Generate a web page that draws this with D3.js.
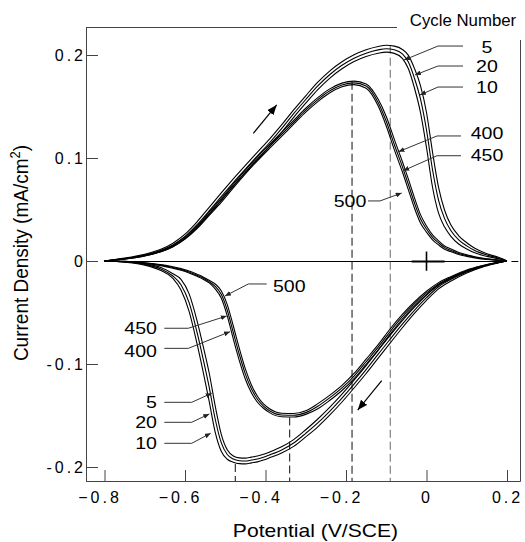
<!DOCTYPE html>
<html>
<head>
<meta charset="utf-8">
<script src="https://cdn.jsdelivr.net/npm/d3@7/dist/d3.min.js"></script>
<style>
  html, body { margin: 0; padding: 0; background: #fff; }
  svg { display: block; font-family: "Liberation Sans", Arial, Helvetica, sans-serif; }
</style>
</head>
<body>
<div id="chart"></div>
<script>
// =========================================================
// Cyclic voltammograms: early cycles (5, 20, 10) vs late (400, 450, 500)
// =========================================================

// anodic sweep (-0.8 -> 0.2 V), potential grid
const anodicE = [-0.8, -0.75, -0.7, -0.66, -0.63, -0.6, -0.57, -0.54, -0.51, -0.48, -0.45, -0.42, -0.39,
  -0.36, -0.33, -0.3, -0.27, -0.24, -0.21, -0.18, -0.15, -0.12, -0.1, -0.08, -0.06, -0.045, -0.03, -0.015,
  0, 0.015, 0.03, 0.045, 0.06, 0.08, 0.1, 0.12, 0.15, 0.18, 0.2];

const anodic5 = [0, 0.0020, 0.0050, 0.0089, 0.0139, 0.0215, 0.0323, 0.0453, 0.0589, 0.0726, 0.0857, 0.0985,
  0.1112, 0.1249, 0.1395, 0.1532, 0.1664, 0.1776, 0.1866, 0.1936, 0.1985, 0.2017, 0.2028, 0.2016, 0.1968,
  0.1866, 0.1680, 0.1443, 0.1102, 0.0716, 0.0464, 0.0329, 0.0242, 0.0165, 0.0117, 0.0079, 0.0045, 0.0021, 0];
const anodic20 = [0, 0.0024, 0.0058, 0.0101, 0.0156, 0.0238, 0.0352, 0.0487, 0.0625, 0.0762, 0.0893, 0.1021,
  0.1148, 0.1285, 0.1431, 0.1568, 0.1700, 0.1811, 0.1900, 0.1969, 0.2018, 0.2050, 0.2061, 0.2051, 0.2011,
  0.1931, 0.1775, 0.1573, 0.1272, 0.0886, 0.0589, 0.0411, 0.0298, 0.0205, 0.0147, 0.0101, 0.0058, 0.0027, 0];
const anodic10 = [0, 0.0028, 0.0066, 0.0113, 0.0173, 0.0261, 0.0381, 0.0521, 0.0661, 0.0798, 0.0929, 0.1057,
  0.1184, 0.1321, 0.1467, 0.1604, 0.1736, 0.1846, 0.1934, 0.2002, 0.2051, 0.2083, 0.2094, 0.2086, 0.2054,
  0.1996, 0.1870, 0.1703, 0.1442, 0.1056, 0.0714, 0.0493, 0.0354, 0.0245, 0.0177, 0.0123, 0.0071, 0.0033, 0];
const anodic400 = [0, 0.0023, 0.0057, 0.0102, 0.0154, 0.0232, 0.0340, 0.0474, 0.0607, 0.0747, 0.0883, 0.1011,
  0.1131, 0.1248, 0.1366, 0.1483, 0.1586, 0.1671, 0.1727, 0.1746, 0.1719, 0.1570, 0.1403, 0.1181, 0.0966,
  0.0795, 0.0615, 0.0450, 0.0340, 0.0254, 0.0196, 0.0146, 0.0118, 0.0083, 0.0061, 0.0042, 0.0022, 0.0010, 0];
const anodic450 = [0, 0.0021, 0.0053, 0.0096, 0.0146, 0.0222, 0.0327, 0.0458, 0.0588, 0.0728, 0.0864, 0.0992,
  0.1112, 0.1229, 0.1347, 0.1464, 0.1567, 0.1652, 0.1709, 0.1729, 0.1698, 0.1537, 0.1357, 0.1131, 0.0916,
  0.0743, 0.0565, 0.0410, 0.0310, 0.0230, 0.0176, 0.0130, 0.0105, 0.0073, 0.0053, 0.0036, 0.0018, 0.0008, 0];
const anodic500 = [0, 0.0019, 0.0049, 0.0090, 0.0138, 0.0212, 0.0314, 0.0442, 0.0569, 0.0709, 0.0845, 0.0973,
  0.1093, 0.1210, 0.1328, 0.1445, 0.1548, 0.1633, 0.1691, 0.1712, 0.1677, 0.1504, 0.1311, 0.1081, 0.0866,
  0.0691, 0.0515, 0.0370, 0.0280, 0.0206, 0.0156, 0.0114, 0.0092, 0.0063, 0.0045, 0.0030, 0.0014, 0.0006, 0];

// cathodic sweep (0.2 -> -0.8 V), stored on an ascending potential grid
const cathodicE = [-0.8, -0.75, -0.7, -0.66, -0.63, -0.61, -0.59, -0.57, -0.555, -0.54, -0.525, -0.51, -0.495,
  -0.48, -0.465, -0.45, -0.435, -0.42, -0.405, -0.39, -0.36, -0.33, -0.3, -0.27, -0.24, -0.21, -0.18, -0.15,
  -0.12, -0.09, -0.06, -0.03, 0, 0.03, 0.06, 0.1, 0.14, 0.17, 0.2];

const cathodic5 = [0, -0.0006, -0.0028, -0.0063, -0.0124, -0.0178, -0.0317, -0.0581, -0.0825, -0.1085, -0.1406,
  -0.1680, -0.1833, -0.1893, -0.1911, -0.1914, -0.1904, -0.1894, -0.1877, -0.1855, -0.1804, -0.1734, -0.1638,
  -0.1534, -0.1419, -0.1293, -0.1157, -0.1016, -0.0867, -0.0719, -0.0578, -0.0449, -0.0330, -0.0230, -0.0164,
  -0.0096, -0.0045, -0.0020, 0];
const cathodic20 = [0, -0.0009, -0.0034, -0.0078, -0.0146, -0.0230, -0.0402, -0.0693, -0.0950, -0.1223, -0.1534,
  -0.1764, -0.1879, -0.1923, -0.1939, -0.1942, -0.1932, -0.1922, -0.1905, -0.1883, -0.1834, -0.1767, -0.1673,
  -0.1572, -0.1457, -0.1331, -0.1195, -0.1054, -0.0905, -0.0757, -0.0613, -0.0479, -0.0356, -0.0250, -0.0180,
  -0.0106, -0.0051, -0.0023, 0];
const cathodic10 = [0, -0.0012, -0.0040, -0.0093, -0.0168, -0.0282, -0.0487, -0.0805, -0.1075, -0.1361, -0.1662,
  -0.1848, -0.1925, -0.1953, -0.1967, -0.1970, -0.1960, -0.1950, -0.1933, -0.1911, -0.1864, -0.1800, -0.1708,
  -0.1610, -0.1495, -0.1369, -0.1233, -0.1092, -0.0943, -0.0795, -0.0648, -0.0509, -0.0382, -0.0270, -0.0196,
  -0.0116, -0.0057, -0.0026, 0];
const cathodic400 = [0, -0.0005, -0.0023, -0.0045, -0.0070, -0.0090, -0.0116, -0.0149, -0.0177, -0.0213, -0.0271,
  -0.0360, -0.0533, -0.0757, -0.0967, -0.1148, -0.1279, -0.1371, -0.1430, -0.1472, -0.1512, -0.1515, -0.1489,
  -0.1435, -0.1352, -0.1257, -0.1142, -0.1003, -0.0862, -0.0708, -0.0563, -0.0436, -0.0326, -0.0236, -0.0172,
  -0.0102, -0.0053, -0.0022, 0];
const cathodic450 = [0, -0.0004, -0.0020, -0.0040, -0.0063, -0.0082, -0.0107, -0.0139, -0.0166, -0.0200, -0.0247,
  -0.0324, -0.0478, -0.0694, -0.0908, -0.1098, -0.1241, -0.1342, -0.1409, -0.1453, -0.1495, -0.1498, -0.1472,
  -0.1410, -0.1327, -0.1232, -0.1117, -0.0978, -0.0837, -0.0683, -0.0541, -0.0417, -0.0310, -0.0223, -0.0162,
  -0.0095, -0.0049, -0.0020, 0];
const cathodic500 = [0, -0.0003, -0.0017, -0.0035, -0.0056, -0.0074, -0.0098, -0.0129, -0.0155, -0.0187, -0.0223,
  -0.0288, -0.0423, -0.0631, -0.0849, -0.1048, -0.1203, -0.1313, -0.1388, -0.1434, -0.1478, -0.1481, -0.1455,
  -0.1385, -0.1302, -0.1207, -0.1092, -0.0953, -0.0812, -0.0658, -0.0519, -0.0398, -0.0294, -0.0210, -0.0152,
  -0.0088, -0.0045, -0.0018, 0];

const cycles = [5, 20, 10, 400, 450, 500];
const anodicI = [anodic5, anodic20, anodic10, anodic400, anodic450, anodic500];
const cathodicI = [cathodic5, cathodic20, cathodic10, cathodic400, cathodic450, cathodic500];

const xTicks = [-0.8, -0.6, -0.4, -0.2, 0, 0.2];
const yTicks = [0.2, 0.1, 0, -0.1, -0.2];

// dashed drop lines at the peak potentials (potential, current where the line starts)
const peakE = [-0.185, -0.09, -0.34, -0.475];
const peakI = [0.174, 0.209, -0.152, -0.197];

// sweep direction arrows [from, to]
const sweepArrows = [
  [[-0.4303, 0.1240], [-0.3722, 0.1515]],
  [[-0.1113, -0.1162], [-0.1709, -0.1447]],
];

// cycle-number callouts: label, label position, leader polyline (data units)
const callouts = [
  { t: '5',   x: 0.1503,  y: 0.2081,  a: 'middle', lead: [[0.0907, 0.2087], [0.0286, 0.2087], [-0.0559, 0.1951]] },
  { t: '20',  x: 0.1503,  y: 0.1893,  a: 'middle', lead: [[0.0907, 0.1893], [0.0286, 0.1893], [-0.0286, 0.1806]] },
  { t: '10',  x: 0.1503,  y: 0.1689,  a: 'middle', lead: [[0.0907, 0.1689], [0.0286, 0.1689], [-0.0162, 0.1612]] },
  { t: '400', x: 0.1503,  y: 0.1246,  a: 'middle', lead: [[0.0857, 0.1214], [0.0261, 0.1214], [-0.0696, 0.1061]] },
  { t: '450', x: 0.1503,  y: 0.1029,  a: 'middle', lead: [[0.0857, 0.1022], [0.0261, 0.1022], [-0.0576, 0.0877]] },
  { t: '500', x: -0.1901, y: 0.0583,  a: 'middle', lead: [[-0.1453, 0.0583], [-0.1155, 0.0583], [-0.0616, 0.0660]] },
  { t: '500', x: -0.3411, y: -0.0240, a: 'middle', lead: [[-0.3970, -0.0223], [-0.4427, -0.0223], [-0.5006, -0.0340]] },
  { t: '450', x: -0.6696, y: -0.0648, a: 'end',    lead: [[-0.6514, -0.0653], [-0.5918, -0.0653], [-0.4964, -0.0534]] },
  { t: '400', x: -0.6696, y: -0.0871, a: 'end',    lead: [[-0.6514, -0.0848], [-0.5918, -0.0848], [-0.4882, -0.0686]] },
  { t: '5',   x: -0.6696, y: -0.1372, a: 'end',    lead: [[-0.6514, -0.1372], [-0.5834, -0.1372], [-0.5337, -0.1284]] },
  { t: '20',  x: -0.6696, y: -0.1566, a: 'end',    lead: [[-0.6514, -0.1566], [-0.5834, -0.1566], [-0.5396, -0.1485]] },
  { t: '10',  x: -0.6696, y: -0.1770, a: 'end',    lead: [[-0.6514, -0.1770], [-0.5834, -0.1770], [-0.5362, -0.1673]] },
];

// ---------------------------------------------------------
const W = 525, H = 542;
const FRAME = { left: 86, right: 520, top: 27, bottom: 481 };
const FONT = '"Liberation Sans", Arial, Helvetica, sans-serif';

const svg = d3.select('#chart').append('svg').attr('width', W).attr('height', H);

const x = d3.scaleLinear().domain([-0.8, 0.2]).range([104.5, 507]);
const y = d3.scaleLinear().domain([-0.2, 0.2]).range([467, 55]);

// stretch text horizontally (the original lettering is wide)
function widen(sel, k) {
  sel.each(function () {
    const w = this.getComputedTextLength();
    d3.select(this).attr('textLength', w * k).attr('lengthAdjust', 'spacingAndGlyphs');
  });
}

const defs = svg.append('defs');
defs.append('marker').attr('id', 'head')
  .attr('viewBox', '0 0 10 8').attr('refX', 10).attr('refY', 4)
  .attr('markerWidth', 10).attr('markerHeight', 8)
  .attr('markerUnits', 'userSpaceOnUse').attr('orient', 'auto')
  .append('path').attr('d', 'M0,0L10,4L0,8Z').attr('fill', '#000');
defs.append('marker').attr('id', 'tip')
  .attr('viewBox', '0 0 6 5').attr('refX', 6).attr('refY', 2.5)
  .attr('markerWidth', 6).attr('markerHeight', 5)
  .attr('markerUnits', 'userSpaceOnUse').attr('orient', 'auto')
  .append('path').attr('d', 'M0,0L6,2.5L0,5Z').attr('fill', '#222');

// frame
const frame = svg.append('g').attr('stroke', '#444').attr('stroke-width', 1);
frame.append('line').attr('x1', FRAME.left + 0.5).attr('x2', FRAME.left + 0.5)
  .attr('y1', FRAME.top).attr('y2', FRAME.bottom + 0.5);
frame.append('line').attr('x1', FRAME.left).attr('x2', FRAME.right + 0.5)
  .attr('y1', FRAME.bottom + 0.5).attr('y2', FRAME.bottom + 0.5);
frame.append('line').attr('x1', FRAME.left).attr('x2', 397)
  .attr('y1', FRAME.top + 0.5).attr('y2', FRAME.top + 0.5);
frame.append('line').attr('x1', FRAME.right + 0.5).attr('x2', FRAME.right + 0.5)
  .attr('y1', 40).attr('y2', FRAME.bottom + 0.5);

// axes
const gx = svg.append('g').attr('transform', `translate(0,${FRAME.bottom})`)
  .call(d3.axisBottom(x).tickValues(xTicks).tickSizeInner(-11).tickSizeOuter(0).tickPadding(11)
    .tickFormat(d3.format('')));
gx.select('.domain').remove();
gx.attr('font-size', 16).attr('font-family', FONT);
gx.selectAll('line').attr('stroke', '#444');
gx.selectAll('text').attr('fill', '#000').style('letter-spacing', '3px');
gx.selectAll('text').filter(d => d < 0).attr('dx', -5);

const gy = svg.append('g').attr('transform', `translate(${FRAME.left},0)`)
  .call(d3.axisLeft(y).tickValues(yTicks).tickSizeInner(-12).tickSizeOuter(0).tickPadding(0)
    .tickFormat(d => (d < 0 ? '-' : '') + Math.abs(d)));
gy.select('.domain').remove();
gy.attr('font-size', 16).attr('font-family', FONT);
gy.selectAll('line').attr('stroke', '#444');
gy.selectAll('text').attr('fill', '#000').style('letter-spacing', '3px');

// zero line with crosshair at the origin
const zl = svg.append('g').attr('stroke', '#000').attr('stroke-width', 1);
zl.append('line').attr('x1', x(-0.8)).attr('x2', x(0.2)).attr('y1', y(0) + 0.5).attr('y2', y(0) + 0.5);
zl.append('line').attr('x1', x(0.211)).attr('x2', x(0.228)).attr('y1', y(0) + 0.5).attr('y2', y(0) + 0.5);
zl.append('line').attr('x1', x(-0.037)).attr('x2', x(0.045)).attr('y1', y(0) + 0.5).attr('y2', y(0) + 0.5)
  .attr('stroke-width', 2);
zl.append('line').attr('x1', x(0)).attr('x2', x(0)).attr('y1', y(0.0092)).attr('y2', y(-0.0095))
  .attr('stroke-width', 1.6);

// dashed drop lines
svg.append('g').selectAll('line').data(peakE).join('line')
  .attr('x1', d => x(d)).attr('x2', d => x(d))
  .attr('y1', (d, i) => y(peakI[i])).attr('y2', FRAME.bottom)
  .attr('stroke', (d, i) => (i === 1 ? '#777' : '#222'))
  .attr('stroke-width', 1.1)
  .attr('stroke-dasharray', '8,4');

// voltammograms
const line = d3.line().x(d => x(d[0])).y(d => y(d[1])).curve(d3.curveMonotoneX);
const curves = svg.append('g').attr('fill', 'none').attr('stroke', '#000').attr('stroke-width', 1.1);
cycles.forEach((c, k) => {
  curves.append('path').attr('class', `cv-${c}`)
    .attr('d', line(anodicE.map((e, j) => [e, anodicI[k][j]])));
  curves.append('path').attr('class', `cv-${c}`)
    .attr('d', line(cathodicE.map((e, j) => [e, cathodicI[k][j]])));
});

// sweep direction arrows
svg.append('g').selectAll('line').data(sweepArrows).join('line')
  .attr('x1', d => x(d[0][0])).attr('y1', d => y(d[0][1]))
  .attr('x2', d => x(d[1][0])).attr('y2', d => y(d[1][1]))
  .attr('stroke', '#000').attr('stroke-width', 1.2)
  .attr('marker-end', 'url(#head)');

// callouts
const lead = d3.line().x(d => x(d[0])).y(d => y(d[1]));
const co = svg.append('g');
co.selectAll('path').data(callouts).join('path')
  .attr('d', d => lead(d.lead))
  .attr('fill', 'none').attr('stroke', '#333').attr('stroke-width', 1)
  .attr('marker-end', 'url(#tip)');
const coText = co.selectAll('text').data(callouts).join('text')
  .attr('x', d => x(d.x)).attr('y', d => y(d.y)).attr('dy', '0.35em')
  .attr('text-anchor', d => d.a)
  .attr('font-size', 17).attr('fill', '#000')
  .text(d => d.t);
widen(coText, 1.15);

// legend heading
const head = svg.append('text')
  .attr('x', 463).attr('y', 26)
  .attr('text-anchor', 'middle').attr('font-size', 16).attr('fill', '#000')
  .text('Cycle Number');
widen(head, 1.05);

// axis titles
const xt = svg.append('text')
  .attr('x', 315.5).attr('y', 537)
  .attr('text-anchor', 'middle').attr('font-size', 18.5).attr('fill', '#000')
  .text('Potential (V/SCE)');
widen(xt, 1.14);

const yt = svg.append('text')
  .attr('transform', 'translate(28,253) scale(1.1,1) rotate(-90)')
  .attr('text-anchor', 'middle').attr('font-size', 19).attr('fill', '#000');
yt.append('tspan').text('Current Density (mA/cm');
yt.append('tspan').attr('dy', -7).attr('font-size', 13).text('2');
yt.append('tspan').attr('dy', 7).text(')');
</script>
</body>
</html>
